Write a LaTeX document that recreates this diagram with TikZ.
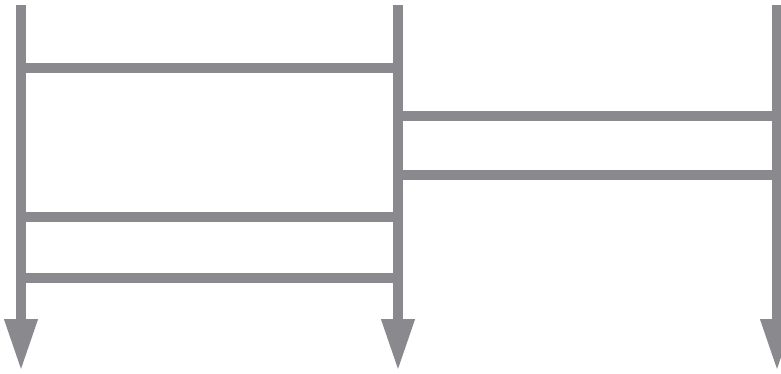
\documentclass[tikz,border=0pt]{standalone}
\usetikzlibrary{arrows.meta}
\definecolor{bargray}{RGB}{138,138,142}
\begin{document}
\begin{tikzpicture}[x=0.02cm, y=-0.02cm, line join=miter, line cap=butt, line width=0.2cm]
	\useasboundingbox (0,0) rectangle (781,373);
	\coordinate (t1) at (21,5);  \coordinate (b1) at (21,371);
	\coordinate (t2) at (398,5); \coordinate (b2) at (398,371);
	\coordinate (t3) at (777,5); \coordinate (b3) at (777,371);
	\foreach \y in {68,217,278} \draw [bargray] (t1 |- 0,\y)--(t2 |- 0,\y);
	\foreach \y in {116,175} \draw [bargray] (t2 |- 0,\y)--(t3 |- 0,\y);
	\foreach \i in {1,2,3} \draw [bargray, -{Triangle[length=1.04cm, width=0.62cm]}] (t\i)--(b\i);
\end{tikzpicture}
\end{document}
